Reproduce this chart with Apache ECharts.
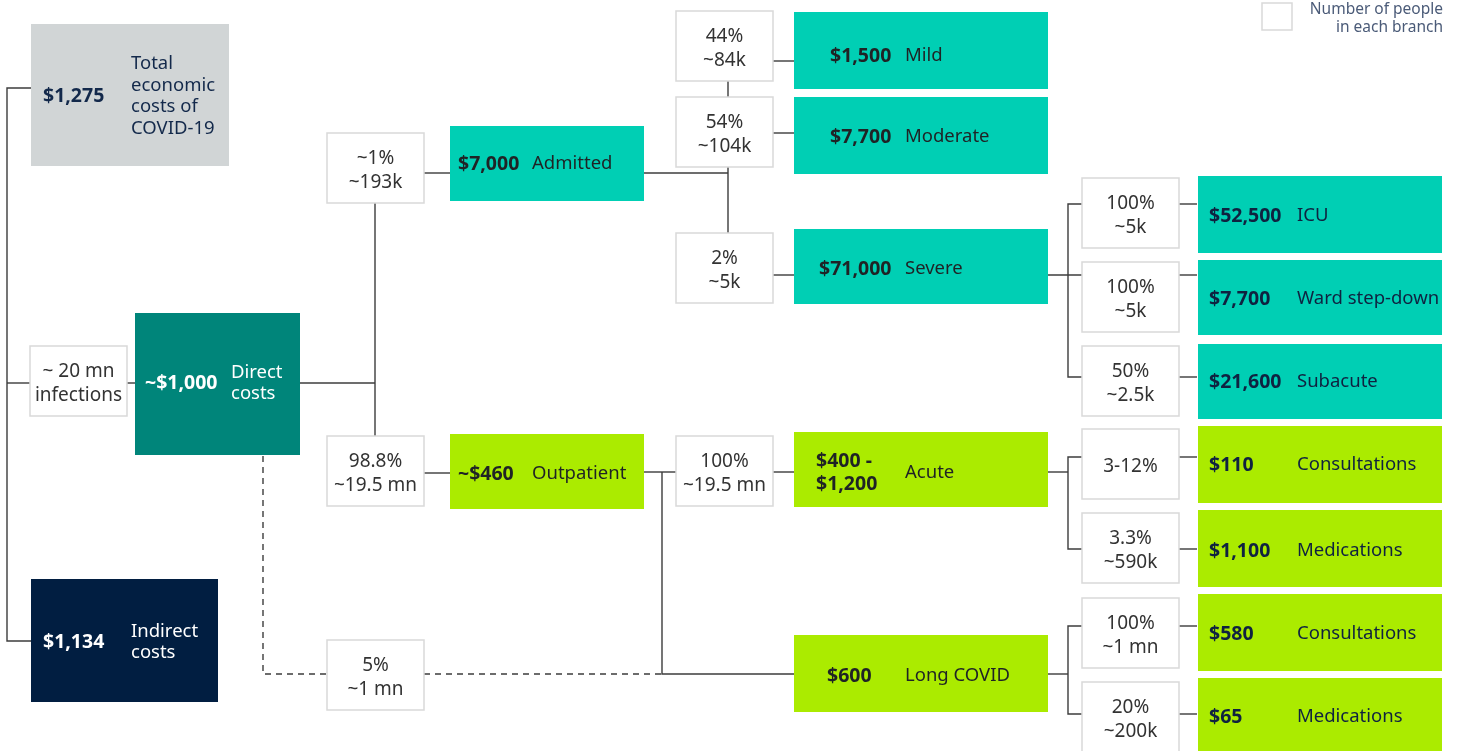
<!DOCTYPE html>
<html>
<head>
<meta charset="utf-8">
<script src="https://cdn.jsdelivr.net/npm/echarts@6/dist/echarts.min.js"></script>
<style>html,body{margin:0;padding:0;background:#fff}#chart{width:1460px;height:751px}</style>
</head>
<body>
<div id="chart"></div>
<script>
// ---- content ----
const costValues = ['$1,275', '~$1,000', '$1,134', '$7,000', '~$460', '$1,500', '$7,700', '$71,000',
  '$400 -\n$1,200', '$600', '$52,500', '$7,700', '$21,600', '$110', '$1,100', '$580', '$65'];
const costLabels = ['Total\neconomic\ncosts of\nCOVID-19', 'Direct\ncosts', 'Indirect\ncosts', 'Admitted',
  'Outpatient', 'Mild', 'Moderate', 'Severe', 'Acute', 'Long COVID', 'ICU', 'Ward step-down', 'Subacute',
  'Consultations', 'Medications', 'Consultations', 'Medications'];
const costKinds = ['total', 'direct', 'indirect', 'hosp', 'out', 'hosp', 'hosp', 'hosp', 'out', 'out',
  'hosp2', 'hosp2', 'hosp2', 'out2', 'out2', 'out2', 'out2'];
const shareTexts = ['~ 20 mn\ninfections', '~1%\n~193k', '98.8%\n~19.5 mn', '5%\n~1 mn', '44%\n~84k',
  '54%\n~104k', '2%\n~5k', '100%\n~19.5 mn', '100%\n~5k', '100%\n~5k', '50%\n~2.5k', '3-12%',
  '3.3%\n~590k', '100%\n~1 mn', '20%\n~200k'];
const legendText = 'Number of people\nin each branch';

// ---- layout (diagram units): box x0, y0, x1, y1, value x, label x, text centre y ----
const costLayout = [
  [31, 24, 229, 166, 43, 131, 96], [135, 313, 300, 455, 145, 231, 383], [31, 579, 218, 702, 43, 131, 642],
  [450, 126, 644, 201, 458, 532, 164], [450, 434, 644, 509, 458, 532, 474],
  [794, 12, 1048, 89, 830, 905, 56], [794, 97, 1048, 174, 830, 905, 137], [794, 229, 1048, 304, 819, 905, 269],
  [794, 432, 1048, 507, 816, 905, 473], [794, 635, 1048, 712, 827, 905, 676],
  [1198, 176, 1442, 253, 1209, 1297, 216], [1198, 260, 1442, 335, 1209, 1297, 299], [1198, 344, 1442, 419, 1209, 1297, 382],
  [1198, 426, 1442, 503, 1209, 1297, 465], [1198, 510, 1442, 587, 1209, 1297, 551],
  [1198, 594, 1442, 671, 1209, 1297, 634], [1198, 678, 1442, 755, 1209, 1297, 717]
];
const shareLayout = [
  [30, 346, 127, 416], [327, 133, 424, 203], [327, 436, 424, 506], [327, 640, 424, 710],
  [676, 11, 773, 81], [676, 97, 773, 167], [676, 233, 773, 303], [676, 436, 773, 506],
  [1082, 178, 1179, 248], [1082, 262, 1179, 332], [1082, 346, 1179, 416],
  [1082, 429, 1179, 499], [1082, 513, 1179, 583], [1082, 598, 1179, 668], [1082, 682, 1179, 752]
];
const connectors = [
  [[31, 88], [7, 88], [7, 641], [31, 641]], [[7, 383], [30, 383]], [[127, 383], [135, 383]],
  [[300, 383], [375, 383]], [[375, 203], [375, 436]],
  [[424, 173], [450, 173]], [[424, 473], [450, 473]],
  [[644, 173], [728, 173]], [[728, 81], [728, 97]], [[728, 167], [728, 233]],
  [[773, 61], [794, 61]], [[773, 133], [794, 133]], [[773, 275], [794, 275]],
  [[1048, 275], [1082, 275]], [[1082, 204], [1068, 204], [1068, 377], [1082, 377]],
  [[1179, 204], [1197, 204]], [[1179, 275], [1197, 275]], [[1179, 377], [1197, 377]],
  [[644, 472], [676, 472]], [[662, 472], [662, 674], [794, 674]], [[773, 472], [794, 472]],
  [[1048, 472], [1068, 472]], [[1082, 457], [1068, 457], [1068, 549], [1082, 549]],
  [[1179, 457], [1197, 457]], [[1179, 549], [1197, 549]],
  [[1048, 674], [1068, 674]], [[1082, 626], [1068, 626], [1068, 714], [1082, 714]],
  [[1179, 626], [1197, 626]], [[1179, 714], [1197, 714]]
];
const dashedConnectors = [
  [[263, 456], [263, 674], [327, 674]], [[424, 674], [662, 674]]
];
const legendLayout = [1262, 3, 1292, 30, 1443];

const kindStyle = {
  total: { fill: '#d1d5d6', text: '#13294b' },
  direct: { fill: '#00857a', text: '#ffffff' },
  indirect: { fill: '#011e41', text: '#ffffff' },
  hosp: { fill: '#00cfb4', text: '#1f2325' },
  out: { fill: '#abeb00', text: '#1f2325' },
  hosp2: { fill: '#00cfb4', text: '#0f2240' },
  out2: { fill: '#abeb00', text: '#0f2240' }
};
const FONT = '"Noto Sans", "Open Sans", sans-serif';

const chart = echarts.init(document.getElementById('chart'));

function lineSeries(list, dashed) {
  return {
    type: 'custom', coordinateSystem: 'cartesian2d', silent: true, clip: false,
    data: list.map((c, i) => [c[0][0], c[0][1], i]),
    renderItem: function (params, api) {
      const pts = list[api.value(2)].map(p => api.coord(p));
      return {
        type: 'polyline', shape: { points: pts },
        style: { stroke: '#3c3c3c', lineWidth: 1.4, fill: null, lineDash: dashed ? [6, 5] : null }
      };
    }
  };
}

chart.setOption({
  animation: false,
  grid: { left: 0, right: 0, top: 0, bottom: 0 },
  xAxis: { type: 'value', min: 0, max: 1460, show: false },
  yAxis: { type: 'value', min: 0, max: 751, inverse: true, show: false },
  series: [
    lineSeries(connectors, false),
    lineSeries(dashedConnectors, true),
    {
      type: 'custom', coordinateSystem: 'cartesian2d', silent: true, clip: false,
      data: shareLayout.map((b, i) => [b[0], b[1], b[2], b[3], i]),
      renderItem: function (params, api) {
        const p0 = api.coord([api.value(0), api.value(1)]);
        const p1 = api.coord([api.value(2), api.value(3)]);
        return {
          type: 'group', children: [
            { type: 'rect', shape: { x: p0[0], y: p0[1], width: p1[0] - p0[0], height: p1[1] - p0[1] },
              style: { fill: '#ffffff', stroke: '#d9d9d9', lineWidth: 1.5 } },
            { type: 'text', style: { text: shareTexts[api.value(4)], x: (p0[0] + p1[0]) / 2, y: (p0[1] + p1[1]) / 2 + 3,
              align: 'center', verticalAlign: 'middle', font: '19px ' + FONT, lineHeight: 24, fill: '#333333' } }
          ]
        };
      }
    },
    {
      type: 'custom', coordinateSystem: 'cartesian2d', silent: true, clip: false,
      data: costLayout.map((b, i) => [b[0], b[1], b[2], b[3], b[4], b[5], b[6], i]),
      renderItem: function (params, api) {
        const i = api.value(7);
        const st = kindStyle[costKinds[i]];
        const p0 = api.coord([api.value(0), api.value(1)]);
        const p1 = api.coord([api.value(2), api.value(3)]);
        const vx = api.coord([api.value(4), 0])[0];
        const lx = api.coord([api.value(5), 0])[0];
        const cy = api.coord([0, api.value(6)])[1];
        return {
          type: 'group', children: [
            { type: 'rect', shape: { x: p0[0], y: p0[1], width: p1[0] - p0[0], height: p1[1] - p0[1] },
              style: { fill: st.fill } },
            { type: 'text', style: { text: costValues[i], x: vx, y: cy, align: 'left', verticalAlign: 'middle',
              font: 'bold 19.5px ' + FONT, lineHeight: 23, fill: st.text } },
            { type: 'text', style: { text: costLabels[i], x: lx, y: cy, align: 'left', verticalAlign: 'middle',
              font: '18.5px ' + FONT, lineHeight: 21.5, fill: st.text } }
          ]
        };
      }
    },
    {
      type: 'custom', coordinateSystem: 'cartesian2d', silent: true, clip: false,
      data: [legendLayout],
      renderItem: function (params, api) {
        const p0 = api.coord([api.value(0), api.value(1)]);
        const p1 = api.coord([api.value(2), api.value(3)]);
        const tx = api.coord([api.value(4), 0])[0];
        return {
          type: 'group', children: [
            { type: 'rect', shape: { x: p0[0], y: p0[1], width: p1[0] - p0[0], height: p1[1] - p0[1] },
              style: { fill: '#ffffff', stroke: '#d9d9d9', lineWidth: 1.5 } },
            { type: 'text', style: { text: legendText, x: tx, y: p0[1] + 15.5, align: 'right', verticalAlign: 'middle',
              font: '15.5px ' + FONT, lineHeight: 18, fill: '#4b5b78' } }
          ]
        };
      }
    }
  ]
});
</script>
</body>
</html>
